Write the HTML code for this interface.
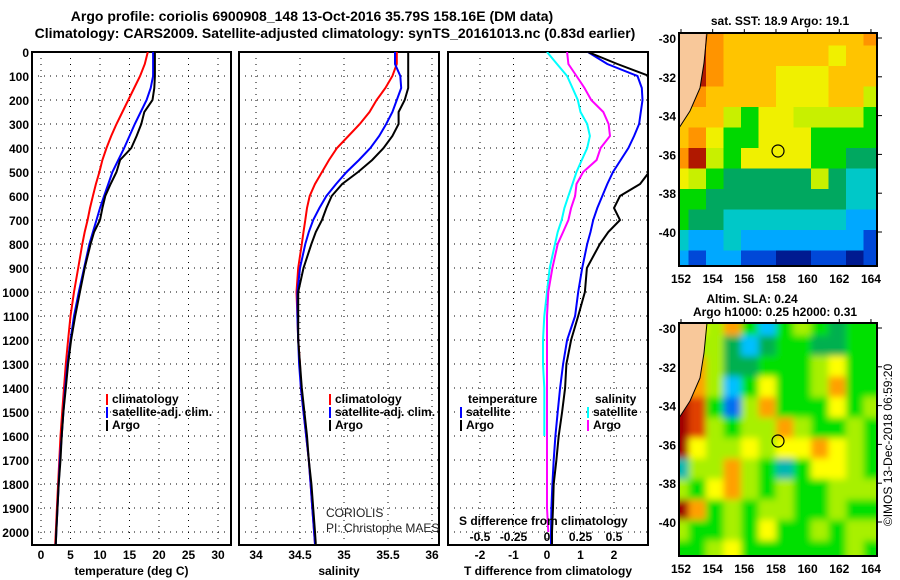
<!DOCTYPE html>
<html><head><meta charset="utf-8"><style>
html,body{margin:0;padding:0;background:#fff;}
svg{display:block;font-family:"Liberation Sans",sans-serif;}
.t{font-weight:bold;font-size:12px;fill:#000;}
.h{font-weight:bold;font-size:14px;fill:#000;}
</style></head><body>
<svg id="c" width="900" height="580" viewBox="0 0 900 580" xmlns="http://www.w3.org/2000/svg">
<defs>
<clipPath id="cp1"><rect x="32" y="52" width="199" height="493"/></clipPath>
<clipPath id="cp2"><rect x="239" y="52" width="200" height="493"/></clipPath>
<clipPath id="cp3"><rect x="448" y="52" width="200" height="493"/></clipPath>
<clipPath id="cm1"><rect x="679" y="33" width="198" height="233"/></clipPath>
<clipPath id="cm2"><rect x="679" y="323" width="198" height="233"/></clipPath>
<filter id="bl" x="-5%" y="-5%" width="110%" height="110%"><feGaussianBlur stdDeviation="3.5"/></filter>
</defs>
<text class="h" x="312" y="21" text-anchor="middle">Argo profile: coriolis 6900908_148 13-Oct-2016 35.79S 158.16E (DM data)</text>
<text class="h" x="335" y="38" text-anchor="middle">Climatology: CARS2009. Satellite-adjusted climatology: synTS_20161013.nc (0.83d earlier)</text>
<g id="g"></g>
</svg>
<script>
const depths=[0,50,100,150,200,250,300,350,400,450,500,550,600,650,700,750,800,900,1000,1100,1200,1300,1400,1500,1600,1700,1800,1900,2000,2050];
const tempClim=[18.1,17.6,16.8,15.8,14.8,13.8,12.8,11.9,11.1,10.4,9.9,9.3,8.8,8.3,7.9,7.4,7.0,6.3,5.6,5.0,4.6,4.2,3.9,3.6,3.3,3.1,2.9,2.7,2.5,2.4];
const tempSat=[19.0,19.0,19.0,18.6,17.9,16.9,15.9,15.0,14.1,13.1,12.1,11.4,10.7,10.0,9.4,8.8,8.2,7.3,6.4,5.6,5.0,4.5,4.1,3.8,3.5,3.2,3.0,2.8,2.6,2.5];
const tempArgo=[19.3,19.3,19.3,19.2,18.9,17.5,17.0,16.2,15.3,13.4,12.8,11.8,10.9,10.4,10.0,9.0,8.4,7.4,6.6,5.8,5.1,4.6,4.2,3.8,3.5,3.3,3.0,2.8,2.6,2.5];
const salClim=[35.60,35.60,35.55,35.47,35.37,35.29,35.18,35.05,34.92,34.83,34.75,34.67,34.61,34.58,34.56,34.54,34.52,34.48,34.46,34.47,34.48,34.50,34.51,34.54,34.57,34.60,34.62,34.64,34.66,34.67];
const salSat=[35.58,35.58,35.64,35.65,35.60,35.55,35.48,35.40,35.30,35.17,35.03,34.91,34.80,34.72,34.65,34.60,34.56,34.50,34.47,34.47,34.48,34.49,34.51,34.54,34.57,34.60,34.62,34.64,34.66,34.67];
const salArgo=[35.73,35.73,35.73,35.73,35.69,35.62,35.62,35.55,35.45,35.32,35.16,34.98,34.86,34.80,34.75,34.68,34.63,34.54,34.48,34.48,34.48,34.50,34.52,34.55,34.58,34.60,34.63,34.65,34.67,34.68];
const tDiffSat=[1.22,1.8,2.7,2.83,2.85,2.8,2.75,2.6,2.43,2.2,1.97,1.8,1.65,1.5,1.38,1.3,1.2,1.05,0.93,0.84,0.6,0.48,0.39,0.32,0.25,0.2,0.16,0.13,0.12,0.12];
const tDiffArgo=[1.22,2.1,3.05,3.6,4,4,4,4,4,3.5,3.05,2.78,2.18,2.0,2.18,1.83,1.58,1.19,1.13,0.93,0.72,0.58,0.54,0.45,0.35,0.28,0.2,0.18,0.15,0.15];
const sDiffSat=[0,0.075,0.15,0.19,0.23,0.25,0.3,0.32,0.3,0.26,0.22,0.19,0.16,0.13,0.11,0.08,0.06,0.02,0,-0.02,-0.03,-0.03,-0.02,-0.02,-0.02,null,null,null,null,null];
const sDiffArgo=[0.15,0.16,0.22,0.28,0.33,0.42,0.46,0.47,0.40,0.37,0.27,0.22,0.21,0.18,0.16,0.12,0.08,0.04,0.01,0.0,0,0,0,0,0,0,0,0,0.01,null];
const depthTicks=[0,100,200,300,400,500,600,700,800,900,1000,1100,1200,1300,1400,1500,1600,1700,1800,1900,2000];
const tempTicks=[0,5,10,15,20,25,30];
const salTicks=[34,34.5,35,35.5,36];
const salTickLabels=["34","34.5","35","35.5","36"];
const tdTicks=[-2,-1,0,1,2];
const sdTicks=[-0.5,-0.25,0,0.25,0.5];
const sdTickLabels=["-0.5","-0.25","0","0.25","0.5"];
const latTicks=[-30,-32,-34,-36,-38,-40];
const lonTicks=[152,154,156,158,160,162,164];
// coarse map fields (12 lon x 12 lat), -1 = land
const sstGrid=[
[-1,10,9,8,8,8,8,8,8,8,8,9],[-1,10,9,8,8,8,8,8,8,7,8,8],[-1,10,9,8,8,8,7,7,7,8,8,8],
[9,9,8,8,8,8,7,7,7,8,8,6],[8,8,8,6,5,7,7,6,6,6,6,5],[8,9,7,5,5,7,7,7,5,5,5,5],
[9,10,6,5,7,7,7,7,5,5,4,4],[7,6,5,4,4,4,4,4,6,4,3,3],[5,5,4,4,4,4,4,4,4,4,3,3],
[5,4,4,3,3,3,3,3,3,3,2,2],[3,2,2,3,2,2,2,2,2,2,2,1],[2,1,2,2,1,1,0,0,1,1,0,1]];
const slaGrid=[
[7,7,6,8,5,2,5,6,5,4,5,5],[8,6,6,4,2,4,5,5,4,4,5,5],[9,8,6,4,4,5,5,5,6,7,5,5],
[9,8,6,2,5,7,5,5,6,8,5,5],[10,9,5,1,6,8,5,5,5,7,5,6],[10,9,6,5,6,6,8,6,5,5,6,5],
[10,7,6,6,7,6,7,7,8,7,6,5],[3,6,6,8,6,5,3,5,7,7,6,5],[6,5,7,8,6,5,6,5,5,6,6,6],
[10,8,5,6,5,6,6,5,5,6,5,5],[6,5,5,6,5,7,5,5,6,5,6,6],[5,5,6,7,5,5,5,5,5,5,6,5]];
const sstPal=["#001a90","#0048d8","#00a8ff","#00c8c8","#00a860","#00d800","#c8f000","#f0f000","#ffc400","#ff9400","#b01800"];
const slaPal=["#0020a0","#0070f0","#00c0ff","#00b8b0","#00b050","#00e000","#a8f000","#ffff00","#ffa000","#e04000","#a00000"];

const NS="http://www.w3.org/2000/svg";
const G=document.getElementById('g');
function el(tag,attrs,parent,txt){const e=document.createElementNS(NS,tag);for(const k in attrs)e.setAttribute(k,attrs[k]);if(txt!==undefined)e.textContent=txt;(parent||G).appendChild(e);return e;}
const Y=d=>52+0.24*d;
const xT=v=>41+5.9*v, xS=v=>256+88*(v-34), xTD=v=>547+33.5*v, xSD=v=>547+134*v;
function panel(name,x0,x1,ticks,xf,labels,title){
  const g=el('g',{});
  
  
  ticks.forEach(v=>{const l=el('line',{x1:xf(v),x2:xf(v),y1:52,y2:545,stroke:'#000','stroke-width':1,'stroke-dasharray':'1,5'},g);
    });
  depthTicks.forEach(d=>{const l=el('line',{x1:x0,x2:x1,y1:Y(d),y2:Y(d),stroke:'#000','stroke-width':1,'stroke-dasharray':'1,5'},g);
    });
  const r=el('rect',{x:x0,y:52,width:x1-x0,height:493,fill:'none',stroke:'#000','stroke-width':2},g);
  
  ticks.forEach((v,i)=>{const t=el('text',{class:'t',x:xf(v),y:559,'text-anchor':'middle'},g,labels?labels[i]:String(v));
    });
  if(title){const t=el('text',{class:'t',x:(x0+x1)/2,y:575,'text-anchor':'middle'},g,title);
    }
  return g;
}
function series(name,vals,xf,color,cp,w){
  let pts=[];const segs=[];
  depths.forEach((d,i)=>{if(vals[i]===null){if(pts.length)segs.push(pts);pts=[];}else pts.push(xf(vals[i]).toFixed(1)+','+Y(d).toFixed(1));});
  if(pts.length)segs.push(pts);
  segs.forEach(s=>{const p=el('polyline',{points:s.join(' '),fill:'none',stroke:color,'stroke-width':w||2,'clip-path':'url(#'+cp+')'});
    });
}
function legend(name,x,y,color,txt){
  const r=el('rect',{x:x,y:y-9,width:2,height:11,fill:color});
  
  if(txt){const t=el('text',{class:'t',x:x+6,y:y},G,txt);
  }
}
panel('temperature-panel',32,231,tempTicks,xT,null,'temperature (deg C)');
panel('salinity-panel',239,439,salTicks,xS,salTickLabels,'salinity');
panel('difference-panel',448,648,tdTicks,xTD,null,'T difference from climatology');
depthTicks.forEach(d=>{const t=el('text',{class:'t',x:29,y:Y(d)+5,'text-anchor':'end'},G,String(d));
  });
series('temp-climatology-line',tempClim,xT,'#f00','cp1');
series('temp-satellite-line',tempSat,xT,'#00f','cp1');
series('temp-argo-line',tempArgo,xT,'#000','cp1');
series('sal-climatology-line',salClim,xS,'#f00','cp2');
series('sal-satellite-line',salSat,xS,'#00f','cp2');
series('sal-argo-line',salArgo,xS,'#000','cp2');
series('sdiff-satellite-line',sDiffSat,xSD,'#0ff','cp3');
series('sdiff-argo-line',sDiffArgo,xSD,'#f0f','cp3');
series('tdiff-satellite-line',tDiffSat,xTD,'#00f','cp3');
series('tdiff-argo-line',tDiffArgo,xTD,'#000','cp3');
legend('legend-climatology',106,403,'#f00','climatology');
legend('legend-satellite',106,416,'#00f','satellite-adj. clim.');
legend('legend-argo',106,429,'#000','Argo');
legend('legend-sal-climatology',329,403,'#f00','climatology');
legend('legend-sal-satellite',329,416,'#00f','satellite-adj. clim.');
legend('legend-sal-argo',329,429,'#000','Argo');
{const t=el('text',{class:'t',x:468,y:403},G,'temperature');}
{const t=el('text',{class:'t',x:595,y:403},G,'salinity');}
legend('legend-t-satellite',460,416,'#00f','satellite');
legend('legend-t-argo',460,429,'#000','Argo');
legend('legend-s-satellite',587,416,'#0ff','satellite');
legend('legend-s-argo',587,429,'#f0f','Argo');
{const t=el('text',{class:'t',x:459,y:525},G,'S difference from climatology');}
sdTicks.forEach((v,i)=>{const t=el('text',{class:'t',x:xSD(v),y:541,'text-anchor':'middle'},G,sdTickLabels[i]);
  });
{const t=el('text',{x:326,y:517,'font-size':'12px',fill:'#222'},G,'CORIOLIS');}
{const t=el('text',{x:326,y:532,'font-size':'12px',fill:'#222'},G,'PI: Christophe MAES');}

// maps
const lonX=v=>681+(v-152)*15.83, latY=(v,top)=>top+5+(-30-v)*19.4;
function map(name,top,grid,pal,blur,cp){
  const g=el('g',{'clip-path':'url(#'+cp+')'});
  
  const cg=el('g',blur?{filter:'url(#bl)'}:{},g);
  grid.forEach((row,ri)=>row.forEach((v,ci)=>{
    const c=el('rect',{x:671+ci*17.5,y:top-8+ri*20.5,width:18,height:21,fill:v<0?'#f8c89a':pal[v]},cg);
    }));
  const land=el('polygon',{points:`679,${top} 706,${top} 704,${top+30} 700,${top+55} 690,${top+78} 679,${top+95}`,fill:'#f8c89a'},g);
  
  const cst=el('polyline',{points:`707,${top} 704,${top+30} 700,${top+55} 690,${top+78} 679,${top+95}`,fill:'none',stroke:'#000','stroke-width':1},g);
  
  const f=el('rect',{x:679,y:top,width:198,height:233,fill:'none',stroke:'#000','stroke-width':2});
  
  const ci=el('circle',{cx:778,cy:top+118,r:6,fill:'none',stroke:'#000','stroke-width':1.2});
  
  latTicks.forEach(v=>{const t=el('text',{class:'t',x:676,y:latY(v,top)+5,'text-anchor':'end'},G,String(v));
    
    const k=el('line',{x1:877,x2:882,y1:latY(v,top),y2:latY(v,top),stroke:'#000','stroke-width':1});
    });
  lonTicks.forEach(v=>{const t=el('text',{class:'t',x:lonX(v),y:top+250,'text-anchor':'middle'},G,String(v));
    
    const k=el('line',{x1:lonX(v),x2:lonX(v),y1:top-4,y2:top,stroke:'#000','stroke-width':1});
    });
}
map('sst-map',33,sstGrid,sstPal,false,'cm1');
map('sla-map',323,slaGrid,slaPal,true,'cm2');
{const t=el('text',{class:'t',x:780,y:25,'text-anchor':'middle'},G,'sat. SST: 18.9 Argo: 19.1');}
{const t=el('text',{class:'t',x:752,y:303,'text-anchor':'middle'},G,'Altim. SLA: 0.24');}
{const t=el('text',{class:'t',x:775,y:316,'text-anchor':'middle'},G,'Argo h1000: 0.25 h2000: 0.31');}
{const t=el('text',{x:892,y:445,'font-size':'12px','text-anchor':'middle',transform:'rotate(-90 892 445)'},G,'©IMOS 13-Dec-2018 06:59:20');}
</script>
</body></html>
